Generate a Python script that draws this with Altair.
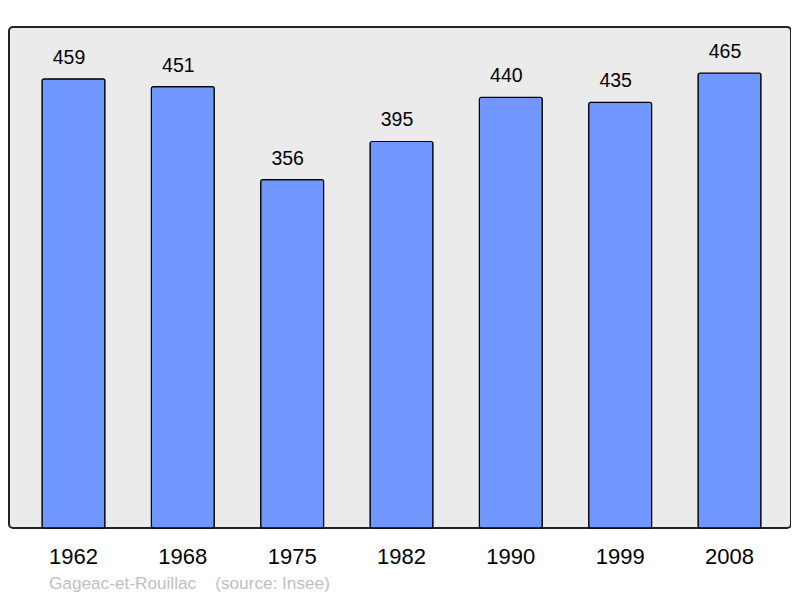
import altair as alt
import pandas as pd

years = ["1962", "1968", "1975", "1982", "1990", "1999", "2008"]
population = [459, 451, 356, 395, 440, 435, 465]

df = pd.DataFrame({"year": years, "pop": population})

FONT = "Liberation Sans"

x_enc = alt.X(
    "year:N",
    sort=years,
    scale=alt.Scale(range=[33, 752], paddingInner=0.424, paddingOuter=0),
    axis=alt.Axis(
        title=None,
        labelAngle=0,
        ticks=False,
        domain=False,
        grid=False,
        labelFontSize=22,
        labelFont=FONT,
        labelColor="#000000",
        labelPadding=35,
        labelBaseline="alphabetic",
    ),
)
y_enc = alt.Y("pop:Q", scale=alt.Scale(domain=[0, 512], nice=False), axis=None)

bars = alt.Chart(df).mark_bar(
    color="#7096ff", stroke="#000000", strokeWidth=1.2, cornerRadius=2
).encode(x=x_enc, y=y_enc)

labels = alt.Chart(df).mark_text(
    dx=-4.5, dy=-15, baseline="alphabetic", fontSize=19.5, font=FONT, color="#000000"
).encode(x=x_enc, y=y_enc, text="pop:Q")

chart = (
    alt.layer(bars, labels)
    .properties(
        width=782,
        height=501,
        background="white",
        padding={"left": 1, "top": 19, "right": 0, "bottom": 0},
        title=alt.TitleParams(
            text="Gageac-et-Rouillac\u00a0\u00a0\u00a0\u00a0(source: Insee)",
            orient="bottom",
            anchor="start",
            dx=40,
            fontSize=17.2,
            font=FONT,
            fontWeight="normal",
            color="#c0c0c0",
            offset=8,
        ),
    )
    .configure_view(fill="#ebebeb", stroke="#222222", strokeWidth=2, cornerRadius=4)
)

chart.save("out.html", embed_options={"renderer": "svg", "actions": False})
